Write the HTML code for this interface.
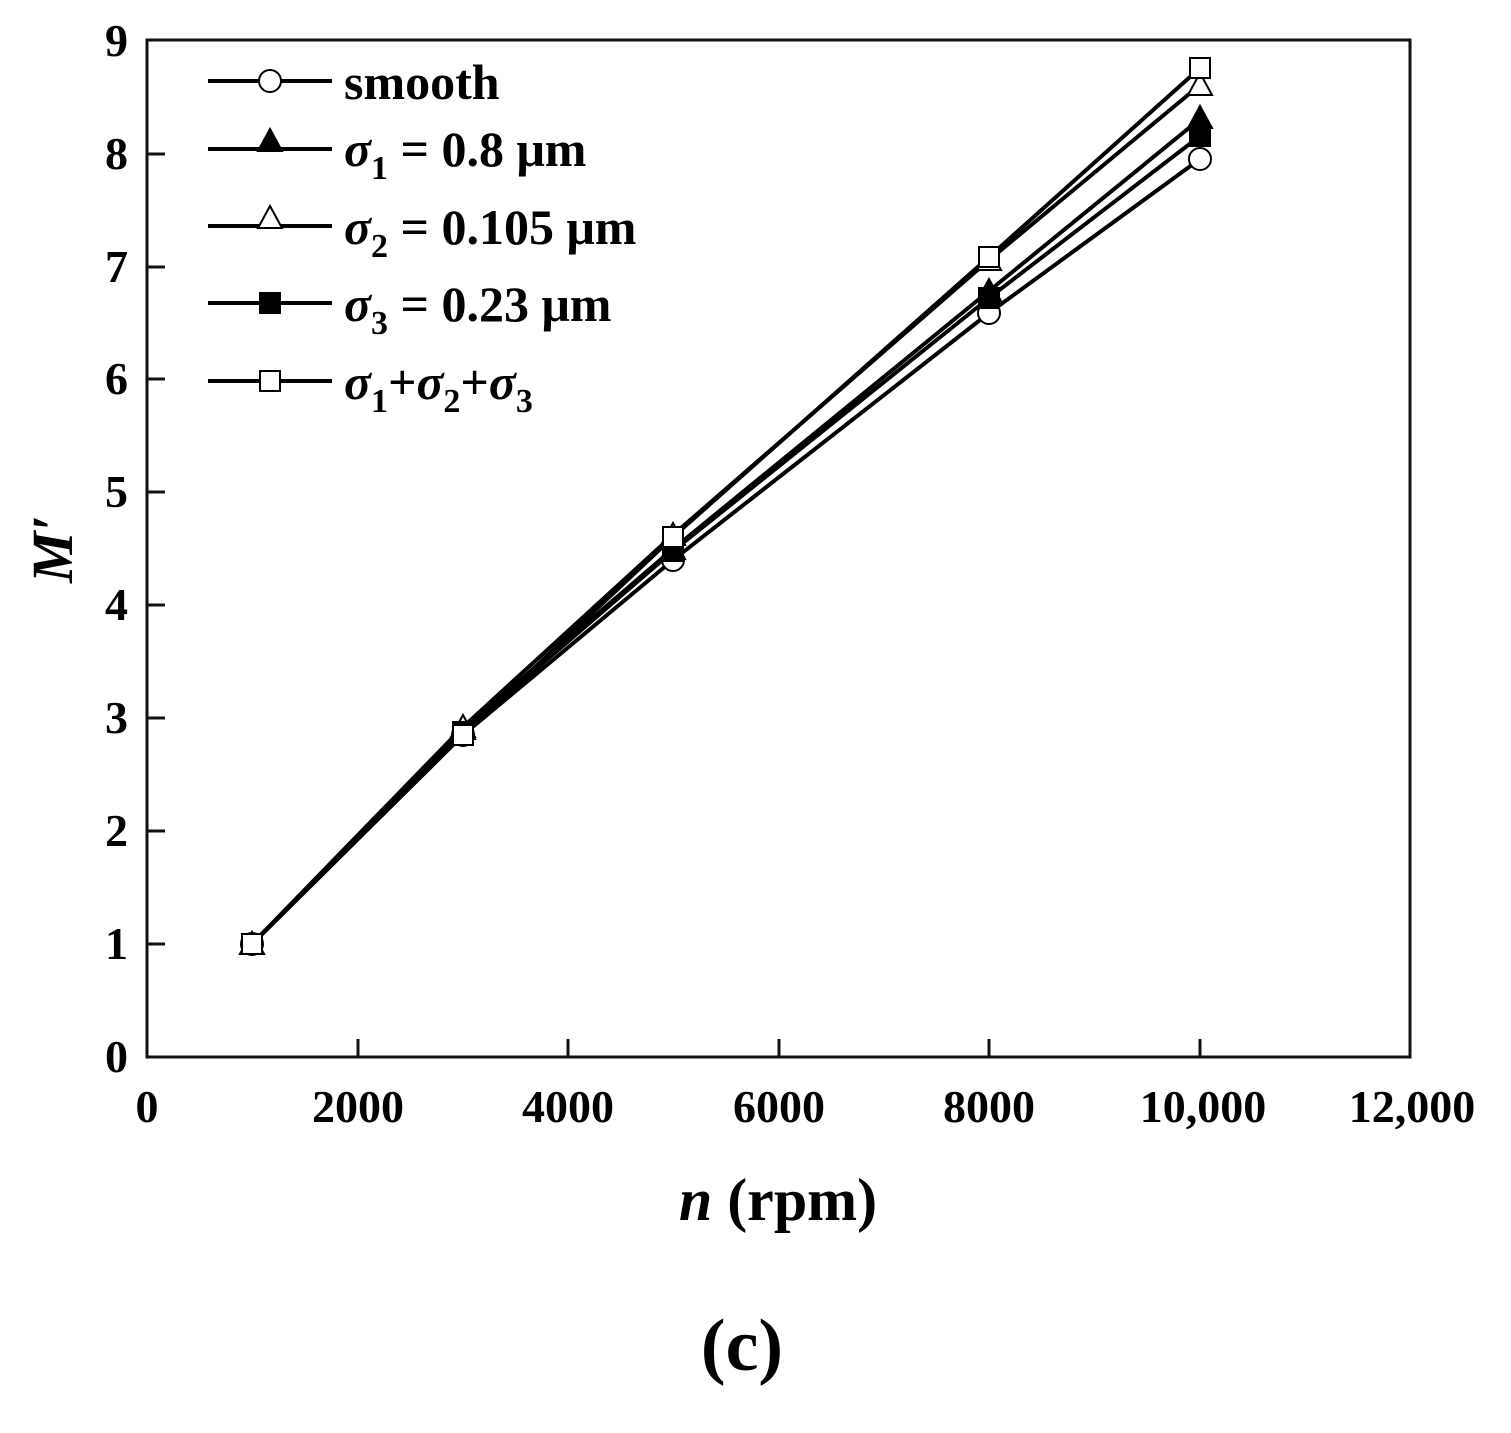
<!DOCTYPE html>
<html><head><meta charset="utf-8"><style>body{margin:0;background:#fff}svg{display:block}</style></head>
<body>
<svg width="1511" height="1433" xmlns="http://www.w3.org/2000/svg" font-family="'Liberation Serif',serif" font-weight="bold">
<rect x="147" y="40" width="1263" height="1017" fill="none" stroke="#111" stroke-width="3"/>
<g stroke="#111" stroke-width="3">
<line x1="147" y1="944" x2="165" y2="944"/><line x1="147" y1="831" x2="165" y2="831"/><line x1="147" y1="718" x2="165" y2="718"/><line x1="147" y1="605" x2="165" y2="605"/><line x1="147" y1="492" x2="165" y2="492"/><line x1="147" y1="379" x2="165" y2="379"/><line x1="147" y1="267" x2="165" y2="267"/><line x1="147" y1="154" x2="165" y2="154"/>
<line x1="358" y1="1057" x2="358" y2="1039"/><line x1="568" y1="1057" x2="568" y2="1039"/><line x1="779" y1="1057" x2="779" y2="1039"/><line x1="989" y1="1057" x2="989" y2="1039"/><line x1="1200" y1="1057" x2="1200" y2="1039"/>
</g>
<g font-size="46" text-anchor="end">
<text x="128" y="1072">0</text><text x="128" y="959">1</text><text x="128" y="846">2</text><text x="128" y="733">3</text><text x="128" y="620">4</text><text x="128" y="507">5</text><text x="128" y="394">6</text><text x="128" y="282">7</text><text x="128" y="169">8</text><text x="128" y="56">9</text>
</g>
<g font-size="46" text-anchor="middle">
<text x="147" y="1122">0</text><text x="358" y="1122">2000</text><text x="568" y="1122">4000</text><text x="779" y="1122">6000</text><text x="989" y="1122">8000</text><text x="1203" y="1122">10,000</text><text x="1412" y="1122">12,000</text>
</g>
<text x="778" y="1220" font-size="60" text-anchor="middle"><tspan font-style="italic">n</tspan> (rpm)</text>
<text x="72" y="549" font-size="58" font-style="italic" text-anchor="middle" transform="rotate(-90 72 549)">M′</text>
<text x="742" y="1370" font-size="74" text-anchor="middle">(c)</text>
<g fill="none" stroke="#000" stroke-width="4">
<polyline points="252,944 463,735 673,560 989,313 1200,159"/>
<polyline points="252,944 463,729 673,549 989,291 1200,119"/>
<polyline points="252,944 463,727 673,535 989,260 1200,85"/>
<polyline points="252,944 463,732 673,551 989,298 1200,136"/>
<polyline points="252,944 463,735 673,537 989,257 1200,68"/>
</g>
<g stroke="#000" stroke-width="2">
<g fill="#fff"><circle cx="252" cy="944" r="11"/><circle cx="463" cy="735" r="11"/><circle cx="673" cy="560" r="11"/><circle cx="989" cy="313" r="11"/><circle cx="1200" cy="159" r="11"/></g>
<g fill="#000"><path d="M252,932 l12,22 h-24z"/><path d="M463,717 l12,22 h-24z"/><path d="M673,537 l12,22 h-24z"/><path d="M989,279 l12,22 h-24z"/><path d="M1200,106 l12,22 h-24z"/></g>
<g fill="#fff"><path d="M252,932 l12,22 h-24z"/><path d="M463,715 l12,22 h-24z"/><path d="M673,523 l12,22 h-24z"/><path d="M989,248 l12,22 h-24z"/><path d="M1200,73 l12,22 h-24z"/></g>
<g fill="#000"><rect x="242" y="934" width="20" height="20"/><rect x="453" y="722" width="20" height="20"/><rect x="663" y="541" width="20" height="20"/><rect x="979" y="288" width="20" height="20"/><rect x="1190" y="126" width="20" height="20"/></g>
<g fill="#fff"><rect x="242" y="934" width="20" height="20"/><rect x="453" y="725" width="20" height="20"/><rect x="663" y="527" width="20" height="20"/><rect x="979" y="247" width="20" height="20"/><rect x="1190" y="58" width="20" height="20"/></g>
</g>
<g stroke="#000" stroke-width="4"><line x1="208" y1="81" x2="332" y2="81"/><line x1="208" y1="149" x2="332" y2="149"/><line x1="208" y1="226" x2="332" y2="226"/><line x1="208" y1="303" x2="332" y2="303"/><line x1="208" y1="381" x2="332" y2="381"/></g>
<g stroke="#000" stroke-width="2">
<circle cx="270" cy="81" r="11" fill="#fff"/>
<path d="M270,129 l12,22 h-24z" fill="#000"/>
<path d="M270,206 l12,22 h-24z" fill="#fff"/>
<rect x="260" y="293" width="20" height="20" fill="#000"/>
<rect x="260" y="371" width="20" height="20" fill="#fff"/>
</g>
<g font-size="50">
<text x="344" y="99">smooth</text>
<text x="344" y="166"><tspan font-style="italic">σ</tspan><tspan font-size="34" dy="13">1</tspan><tspan dy="-13"> = 0.8 μm</tspan></text>
<text x="344" y="244"><tspan font-style="italic">σ</tspan><tspan font-size="34" dy="13">2</tspan><tspan dy="-13"> = 0.105 μm</tspan></text>
<text x="344" y="321"><tspan font-style="italic">σ</tspan><tspan font-size="34" dy="13">3</tspan><tspan dy="-13"> = 0.23 μm</tspan></text>
<text x="344" y="399"><tspan font-style="italic">σ</tspan><tspan font-size="34" dy="13">1</tspan><tspan dy="-13">+</tspan><tspan font-style="italic">σ</tspan><tspan font-size="34" dy="13">2</tspan><tspan dy="-13">+</tspan><tspan font-style="italic">σ</tspan><tspan font-size="34" dy="13">3</tspan></text>
</g>
</svg>
</body></html>
